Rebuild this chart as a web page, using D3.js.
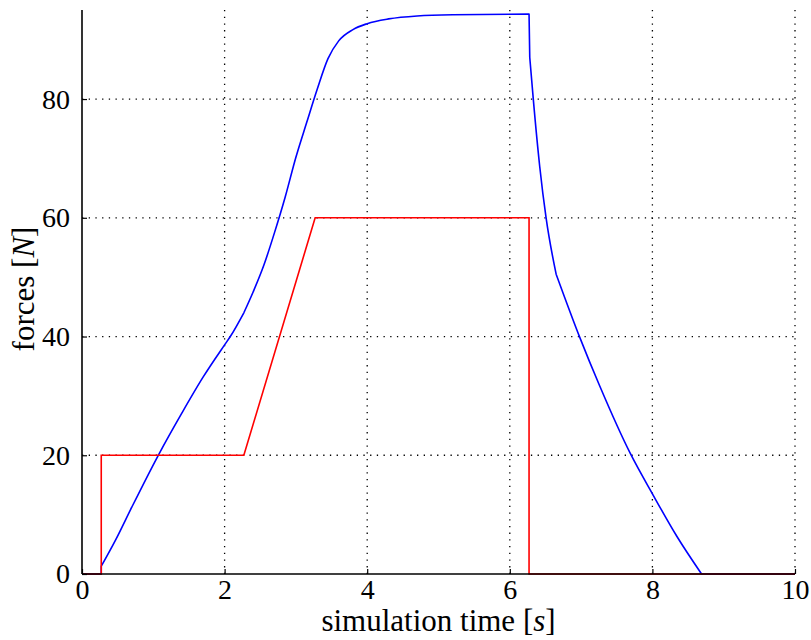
<!DOCTYPE html>
<html>
<head>
<meta charset="utf-8">
<script src="https://cdn.jsdelivr.net/npm/d3@7"></script>
<style>
  html, body { margin: 0; padding: 0; background: #fff; }
  svg { display: block; }
  text { font-family: "Liberation Serif", "DejaVu Serif", serif; fill: #000; }
</style>
</head>
<body>
<script>
// ---- data ----
const xTicks = [0, 2, 4, 6, 8, 10];
const yTicks = [0, 20, 40, 60, 80];

const refTime  = [0, 0.27, 0.27, 2.27, 3.27, 6.27, 6.27, 10];
const refForce = [0, 0, 20, 20, 60, 60, 0, 0];

const simTime  = [0, 0.27, 0.27, 0.47, 0.70, 1.07, 1.40, 1.70, 2.00, 2.08, 2.27, 2.40, 2.55, 2.70, 2.85, 3.00, 3.15, 3.30, 3.45, 3.60, 3.80, 4.00, 4.30, 4.70, 5.20, 6.27, 6.28, 6.33, 6.42, 6.51, 6.65, 6.98, 7.26, 7.69, 8.01, 8.34, 8.69, 10];
const simForce = [0, 0, 1.3, 5.7, 11.3, 20.0, 27.1, 33.2, 38.6, 40.0, 44.0, 47.5, 52.0, 57.5, 63.5, 70.2, 76.0, 81.7, 86.8, 89.8, 91.7, 92.7, 93.5, 94.0, 94.2, 94.3, 87.0, 79.9, 68.6, 59.9, 50.5, 39.9, 31.7, 20.3, 13.3, 6.4, 0, 0];
// sample indices where the simulated curve has a corner (start of a new smooth piece)
const simCorners = [1, 2, 10, 25, 26, 30, 36];

// ---- layout ----
const W = 811, H = 640;
const m = {left: 82, right: 16, top: 10, bottom: 66};
const iw = W - m.left - m.right, ih = H - m.top - m.bottom;

const svg = d3.select("body").append("svg").attr("width", W).attr("height", H);
const g = svg.append("g").attr("transform", `translate(${m.left},${m.top})`);

const x = d3.scaleLinear().domain([0, 10]).range([0, iw]);
const y = d3.scaleLinear().domain([0, 95]).range([ih, 0]);

// grid
g.append("g").selectAll("line").data(xTicks.filter(d => d > 0)).join("line")
  .attr("x1", d => x(d)).attr("x2", d => x(d)).attr("y1", 0).attr("y2", ih)
  .attr("stroke", "#000").attr("stroke-width", 1.3).attr("stroke-dasharray", "1.3,5.4");
g.append("g").selectAll("line").data(yTicks.filter(d => d > 0)).join("line")
  .attr("x1", 0).attr("x2", iw).attr("y1", d => y(d)).attr("y2", d => y(d))
  .attr("stroke", "#000").attr("stroke-width", 1.3).attr("stroke-dasharray", "1.3,5.4");

// lines
const simPts = d3.zip(simTime, simForce);
const cuts = [0, ...simCorners, simPts.length - 1];
const pieces = [];
for (let i = 0; i < cuts.length - 1; i++) pieces.push(simPts.slice(cuts[i], cuts[i + 1] + 1));

const smooth = d3.line().x(d => x(d[0])).y(d => y(d[1])).curve(d3.curveMonotoneX);
const straight = d3.line().x(d => x(d[0])).y(d => y(d[1]));

const simPath = pieces.map((p, i) => {
  const s = (p.length > 2 ? smooth(p) : straight(p));
  return i === 0 ? s : s.replace(/^M/, "L");
}).join("");
g.append("path").attr("d", simPath)
  .attr("fill", "none").attr("stroke", "#0000ff").attr("stroke-width", 1.6).attr("stroke-linejoin", "round");
g.append("path").datum(d3.zip(refTime, refForce)).attr("d", straight)
  .attr("fill", "none").attr("stroke", "#ff0000").attr("stroke-width", 1.6);

// axes
const xAxis = d3.axisBottom(x).tickValues(xTicks).tickSize(-5).tickPadding(5).tickFormat(d3.format("d"));
const yAxis = d3.axisLeft(y).tickValues(yTicks).tickSize(-5).tickPadding(12).tickFormat(d3.format("d"));

const gx = g.append("g").attr("transform", `translate(0,${ih})`).call(xAxis);
gx.select(".domain").attr("d", `M0,0H${iw}`).attr("stroke-width", 1.6);
gx.selectAll(".tick line").attr("stroke-width", 1.2);
gx.selectAll("text").attr("font-size", 28).attr("font-family", "Liberation Serif").attr("dy", "0.71em");

const gy = g.append("g").call(yAxis);
gy.select(".domain").attr("d", `M0,${ih}V0`).attr("stroke-width", 1.6);
gy.selectAll(".tick line").attr("stroke-width", 1.2);
gy.selectAll("text").attr("font-size", 28).attr("font-family", "Liberation Serif");

// axis titles
const xt = svg.append("text").attr("x", m.left + iw / 2).attr("y", 631)
  .attr("text-anchor", "middle").attr("font-size", 31);
xt.append("tspan").text("simulation time [");
xt.append("tspan").attr("font-style", "italic").text("s");
xt.append("tspan").text("]");

const yt = svg.append("text").attr("transform", "translate(34,289) rotate(-90)")
  .attr("text-anchor", "middle").attr("font-size", 31);
yt.append("tspan").text("forces [");
yt.append("tspan").attr("font-style", "italic").text("N");
yt.append("tspan").text("]");
</script>
</body>
</html>
